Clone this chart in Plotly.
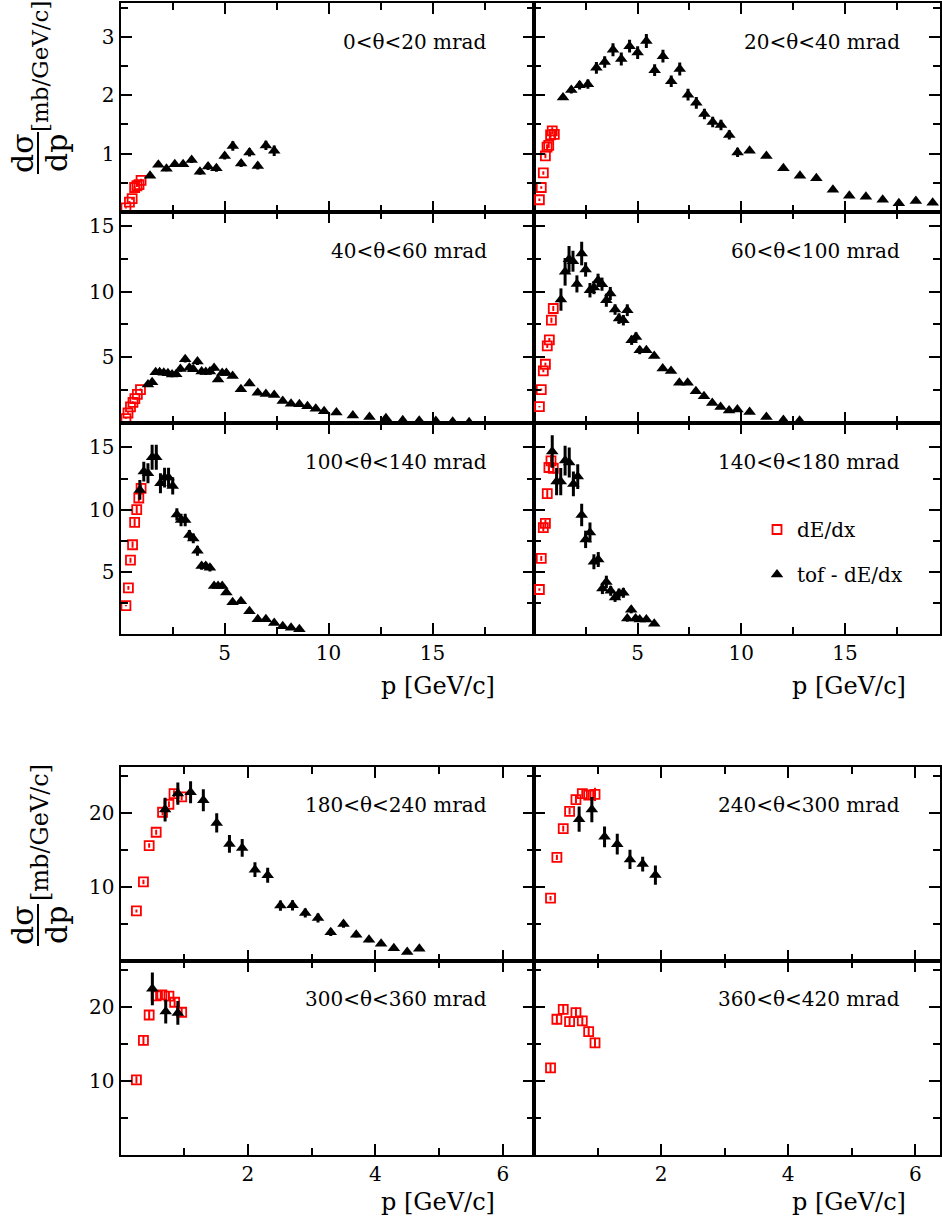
import plotly.graph_objects as go

# ---------------- data ----------------
titles = ["0<θ<20 mrad", "20<θ<40 mrad", "40<θ<60 mrad", "60<θ<100 mrad",
          "100<θ<140 mrad", "140<θ<180 mrad", "180<θ<240 mrad", "240<θ<300 mrad",
          "300<θ<360 mrad", "360<θ<420 mrad"]
legend_names = ["dE/dx", "tof - dE/dx"]
x_title = "p [GeV/c]"
y_title = "[mb/GeV/c]"

# 0-20 mrad
a_dedx_p = [0.26, 0.43, 0.56, 0.68, 0.79, 0.89, 0.99]
a_dedx_y = [0.07, 0.17, 0.23, 0.42, 0.45, 0.47, 0.54]
a_dedx_e = [0.01, 0.02, 0.02, 0.02, 0.02, 0.03, 0.03]
a_tof_p = [1.42, 1.82, 2.21, 2.61, 3.01, 3.42, 3.82, 4.21, 4.61, 5.01, 5.40, 5.80, 6.20, 6.60, 6.99, 7.39]
a_tof_y = [0.62, 0.81, 0.74, 0.82, 0.82, 0.89, 0.69, 0.78, 0.75, 0.96, 1.13, 0.83, 1.02, 0.79, 1.14, 1.05]
a_tof_e = [0.02, 0.04, 0.04, 0.04, 0.04, 0.05, 0.05, 0.06, 0.06, 0.06, 0.08, 0.06, 0.07, 0.06, 0.08, 0.09]

# 20-40 mrad
b_dedx_p = [0.26, 0.35, 0.45, 0.55, 0.63, 0.71, 0.80, 0.88, 0.98]
b_dedx_y = [0.21, 0.42, 0.67, 0.96, 1.11, 1.14, 1.32, 1.39, 1.33]
b_dedx_e = [0.02, 0.02, 0.03, 0.04, 0.05, 0.05, 0.05, 0.06, 0.06]
b_tof_p = [1.40, 1.80, 2.20, 2.60, 3.01, 3.41, 3.81, 4.21, 4.61, 5.00, 5.42, 5.82, 6.22, 6.62, 7.03, 7.43,
           7.83, 8.22, 8.62, 9.02, 9.42, 9.82, 10.40, 11.21, 12.03, 12.83, 13.62, 14.42, 15.21, 16.01,
           16.82, 17.60, 18.42, 19.23]
b_tof_y = [1.96, 2.09, 2.17, 2.19, 2.47, 2.57, 2.78, 2.62, 2.84, 2.73, 2.93, 2.43, 2.67, 2.24, 2.45, 2.01,
           1.87, 1.68, 1.54, 1.49, 1.32, 1.02, 1.05, 0.96, 0.75, 0.62, 0.58, 0.38, 0.28, 0.26,
           0.21, 0.15, 0.19, 0.16]
b_tof_e = [0.04, 0.06, 0.07, 0.08, 0.10, 0.10, 0.11, 0.11, 0.11, 0.11, 0.12, 0.10, 0.11, 0.10, 0.11, 0.10,
           0.10, 0.09, 0.09, 0.09, 0.08, 0.08, 0.03, 0.03, 0.03, 0.03, 0.03, 0.03, 0.02, 0.02,
           0.02, 0.02, 0.02, 0.02]

# 40-60 mrad
c_dedx_p = [0.26, 0.36, 0.48, 0.60, 0.69, 0.81, 0.96]
c_dedx_y = [0.33, 0.76, 1.22, 1.57, 1.85, 2.18, 2.54]
c_dedx_e = [0.03, 0.05, 0.06, 0.06, 0.07, 0.07, 0.08]
c_tof_p = [1.32, 1.52, 1.69, 1.88, 2.08, 2.28, 2.48, 2.68, 2.88, 3.11, 3.31, 3.50, 3.70, 3.90, 4.10, 4.30,
           4.50, 4.69, 4.89, 5.09, 5.39, 5.79, 6.20, 6.60, 6.99, 7.39, 7.80, 8.20, 8.60, 8.99, 9.39, 9.79,
           10.38, 11.17, 11.97, 12.76, 13.57, 14.36, 15.16, 15.97, 16.76]
c_tof_y = [2.92, 3.10, 3.86, 3.86, 3.83, 3.78, 3.68, 3.71, 4.11, 4.85, 4.21, 4.09, 4.67, 3.91, 3.88, 3.91,
           4.19, 3.30, 3.81, 3.81, 3.58, 2.56, 3.00, 2.31, 2.21, 2.13, 1.68, 1.47, 1.42, 1.27, 1.09, 0.89,
           0.79, 0.58, 0.46, 0.36, 0.20, 0.18, 0.15, 0.10, 0.05]
c_tof_e = [0.10, 0.15, 0.20, 0.20, 0.20, 0.20, 0.20, 0.20, 0.22, 0.25, 0.22, 0.22, 0.25, 0.22, 0.22, 0.22,
           0.22, 0.18, 0.20, 0.20, 0.10, 0.08, 0.08, 0.07, 0.07, 0.06, 0.06, 0.05, 0.05, 0.05, 0.04, 0.04,
           0.04, 0.03, 0.03, 0.02, 0.02, 0.02, 0.02, 0.02, 0.02]

# 60-100 mrad
d_dedx_p = [0.26, 0.35, 0.45, 0.55, 0.64, 0.74, 0.84, 0.93]
d_dedx_y = [1.24, 2.54, 3.96, 4.47, 5.86, 6.32, 7.82, 8.71]
d_dedx_e = [0.05, 0.08, 0.10, 0.12, 0.15, 0.15, 0.20, 0.20]
d_tof_p = [1.30, 1.50, 1.69, 1.88, 2.07, 2.30, 2.49, 2.70, 2.89, 3.09, 3.28, 3.49, 3.68, 3.91, 4.10, 4.31,
           4.50, 4.71, 4.92, 5.10, 5.42, 5.80, 6.21, 6.61, 7.01, 7.41, 7.81, 8.20, 8.60, 9.00, 9.41, 9.81,
           10.40, 11.21, 12.03, 12.81]
d_tof_y = [9.39, 11.50, 12.46, 12.31, 10.58, 12.89, 11.68, 10.10, 10.30, 10.86, 10.56, 9.34, 9.85, 8.63,
           7.94, 7.82, 8.58, 6.29, 6.55, 5.53, 5.53, 5.10, 4.14, 3.96, 3.07, 3.07, 2.41, 2.03, 1.52, 1.22,
           0.96, 1.02, 0.84, 0.46, 0.23, 0.18]
d_tof_e = [0.85, 1.05, 1.00, 0.80, 0.65, 0.90, 0.55, 0.55, 0.50, 0.50, 0.50, 0.50, 0.50, 0.40, 0.40, 0.40,
           0.45, 0.35, 0.35, 0.30, 0.10, 0.10, 0.10, 0.10, 0.10, 0.10, 0.08, 0.08, 0.06, 0.05, 0.05, 0.05,
           0.04, 0.03, 0.02, 0.02]

# 100-140 mrad
e_dedx_p = [0.26, 0.38, 0.48, 0.58, 0.68, 0.78, 0.88, 0.99]
e_dedx_y = [2.28, 3.71, 5.94, 7.18, 8.98, 10.00, 10.94, 11.72]
e_dedx_e = [0.05, 0.15, 0.20, 0.25, 0.30, 0.30, 0.30, 0.30]
e_tof_p = [0.93, 1.12, 1.32, 1.52, 1.72, 1.92, 2.12, 2.31, 2.51, 2.71, 2.91, 3.11, 3.31, 3.50, 3.70, 3.90,
           4.10, 4.30, 4.50, 4.69, 4.89, 5.09, 5.39, 5.79, 6.20, 6.60, 6.99, 7.39, 7.80, 8.20, 8.60]
e_tof_y = [11.59, 13.06, 12.93, 14.22, 14.22, 12.12, 12.58, 12.58, 11.91, 9.62, 9.17, 9.17, 7.96, 7.69,
           6.69, 5.46, 5.46, 5.32, 3.87, 3.87, 3.87, 3.33, 2.55, 2.63, 1.83, 1.18, 1.18, 0.89, 0.62, 0.51,
           0.38]
e_tof_e = [0.80, 0.80, 0.80, 1.00, 1.00, 0.80, 0.80, 0.80, 0.70, 0.50, 0.50, 0.50, 0.40, 0.40, 0.40, 0.30,
           0.30, 0.30, 0.20, 0.20, 0.20, 0.15, 0.10, 0.10, 0.08, 0.06, 0.06, 0.05, 0.04, 0.03, 0.03]

# 140-180 mrad
f_dedx_p = [0.26, 0.35, 0.45, 0.55, 0.64, 0.72, 0.82, 0.93]
f_dedx_y = [3.58, 6.08, 8.55, 8.90, 11.29, 13.39, 13.92, 13.33]
f_dedx_e = [0.10, 0.20, 0.30, 0.30, 0.35, 0.45, 0.50, 0.45]
f_tof_p = [0.88, 1.09, 1.29, 1.50, 1.70, 1.90, 2.11, 2.30, 2.49, 2.70, 2.89, 3.10, 3.30, 3.49, 3.70, 3.91,
           4.10, 4.31, 4.50, 4.69, 4.90, 5.10, 5.42, 5.80]
f_tof_y = [14.68, 12.26, 12.26, 13.95, 13.79, 12.07, 12.66, 9.57, 7.61, 8.17, 5.81, 5.99, 3.66, 4.19,
           3.47, 2.93, 3.25, 3.31, 1.24, 1.96, 1.24, 1.16, 1.16, 0.83]
f_tof_e = [1.30, 1.10, 1.10, 1.20, 1.20, 1.00, 1.00, 0.90, 0.70, 0.80, 0.60, 0.60, 0.45, 0.50, 0.40, 0.35,
           0.40, 0.40, 0.25, 0.30, 0.20, 0.15, 0.10, 0.08]

# 180-240 mrad
g_dedx_p = [0.25, 0.36, 0.45, 0.56, 0.66, 0.76, 0.84, 0.96]
g_dedx_y = [6.76, 10.68, 15.59, 17.39, 20.09, 21.17, 22.61, 22.16]
g_dedx_e = [0.20, 0.30, 0.30, 0.35, 0.40, 0.40, 0.45, 0.45]
g_tof_p = [0.70, 0.90, 1.10, 1.30, 1.51, 1.71, 1.91, 2.11, 2.31, 2.51, 2.70, 2.90, 3.10, 3.30, 3.50, 3.70,
           3.90, 4.09, 4.29, 4.50, 4.69]
g_tof_y = [20.45, 22.61, 22.79, 21.71, 18.65, 15.81, 15.27, 12.34, 11.58, 7.48, 7.52, 6.49, 5.81, 3.87,
           5.00, 3.56, 2.88, 2.34, 1.71, 1.22, 1.67]
g_tof_e = [1.60, 1.50, 1.50, 1.50, 1.30, 1.20, 1.20, 1.00, 1.00, 0.70, 0.70, 0.60, 0.60, 0.50, 0.50, 0.40,
           0.35, 0.30, 0.25, 0.20, 0.20]

# 240-300 mrad
h_dedx_p = [0.26, 0.36, 0.46, 0.56, 0.66, 0.76, 0.86, 0.96]
h_dedx_y = [8.48, 13.99, 17.89, 20.22, 21.79, 22.60, 22.42, 22.51]
h_dedx_e = [0.30, 0.35, 0.40, 0.45, 0.50, 0.55, 0.60, 0.90]
h_tof_p = [0.71, 0.91, 1.11, 1.31, 1.51, 1.71, 1.91]
h_tof_y = [19.15, 20.45, 16.77, 15.78, 13.72, 13.09, 11.61]
h_tof_e = [1.70, 1.70, 1.40, 1.40, 1.30, 1.00, 1.30]

# 300-360 mrad
i_dedx_p = [0.25, 0.36, 0.45, 0.56, 0.65, 0.76, 0.85, 0.96]
i_dedx_y = [10.14, 15.48, 18.91, 21.49, 21.63, 21.45, 20.63, 19.28]
i_dedx_e = [0.50, 0.60, 0.60, 0.60, 0.60, 0.60, 0.60, 0.60]
i_tof_p = [0.50, 0.71, 0.90]
i_tof_y = [22.44, 19.37, 19.19]
i_tof_e = [2.20, 1.60, 1.60]

# 360-420 mrad
j_dedx_p = [0.26, 0.36, 0.46, 0.56, 0.66, 0.76, 0.86, 0.96]
j_dedx_y = [11.76, 18.33, 19.68, 18.02, 19.23, 18.11, 16.67, 15.14]
j_dedx_e = [0.60, 0.70, 0.70, 0.70, 0.70, 0.70, 0.70, 0.70]

# ---------------- layout geometry (pixels) ----------------
W, H = 942, 1218
FONT = "DejaVu Serif"
XL, XM, XR = 120.5, 534.0, 939.5
TOP_ROWS = [3, 212, 423, 634]
BOT_ROWS = [767, 961, 1155]


def fx(px):
    return px / W


def fy(py):
    return 1 - py / H


panels = [
    (a_dedx_p, a_dedx_y, a_dedx_e, a_tof_p, a_tof_y, a_tof_e),
    (b_dedx_p, b_dedx_y, b_dedx_e, b_tof_p, b_tof_y, b_tof_e),
    (c_dedx_p, c_dedx_y, c_dedx_e, c_tof_p, c_tof_y, c_tof_e),
    (d_dedx_p, d_dedx_y, d_dedx_e, d_tof_p, d_tof_y, d_tof_e),
    (e_dedx_p, e_dedx_y, e_dedx_e, e_tof_p, e_tof_y, e_tof_e),
    (f_dedx_p, f_dedx_y, f_dedx_e, f_tof_p, f_tof_y, f_tof_e),
    (g_dedx_p, g_dedx_y, g_dedx_e, g_tof_p, g_tof_y, g_tof_e),
    (h_dedx_p, h_dedx_y, h_dedx_e, h_tof_p, h_tof_y, h_tof_e),
    (i_dedx_p, i_dedx_y, i_dedx_e, i_tof_p, i_tof_y, i_tof_e),
    (j_dedx_p, j_dedx_y, j_dedx_e, [], [], []),
]

TX_MAJ, TX_MIN = [5, 10, 15], [2.5, 7.5, 12.5, 17.5]
BX_MAJ, BX_MIN = [2, 4, 6], [1, 3, 5]
specs = []
top_y = [([0, 3.58], [1, 2, 3], [0.5, 1.5, 2.5, 3.5]),
         ([0, 16.05], [5, 10, 15], [2.5, 7.5, 12.5]),
         ([0, 16.97], [5, 10, 15], [2.5, 7.5, 12.5])]
for r in range(3):
    for c in range(2):
        x0, x1 = (XL, XM) if c == 0 else (XM, XR)
        xr = [0, 19.88] if c == 0 else [0, 19.56]
        yr, ymaj, ymin = top_y[r]
        specs.append((x0, x1, TOP_ROWS[r], TOP_ROWS[r + 1], xr, yr, TX_MAJ, TX_MIN, ymaj, ymin,
                      r == 2, c == 0))
for r in range(2):
    for c in range(2):
        x0, x1 = (XL, XM) if c == 0 else (XM, XR)
        xr = [0, 6.49] if c == 0 else [0, 6.38]
        specs.append((x0, x1, BOT_ROWS[r], BOT_ROWS[r + 1], xr, [0, 26.2], BX_MAJ, BX_MIN,
                      [10, 20], [5, 15, 25], r == 1, c == 0))

fig = go.Figure()
layout = dict(width=W, height=H, autosize=False, margin=dict(l=0, r=0, t=0, b=0),
              paper_bgcolor="white", plot_bgcolor="white",
              font=dict(family=FONT, size=20, color="black"))

axis_common = dict(showline=True, linewidth=2, linecolor="black", mirror="ticks",
                   ticks="inside", ticklen=11, tickwidth=2, tickcolor="black",
                   showgrid=False, zeroline=False, tickmode="array",
                   tickfont=dict(family=FONT, size=20, color="black"))

annotations = []
for k, (spec, data, title) in enumerate(zip(specs, panels, titles)):
    x0, x1, yt, yb, xr, yr, xmaj, xmin, ymaj, ymin, showx, showy = spec
    xs = "x" if k == 0 else f"x{k + 1}"
    ys = "y" if k == 0 else f"y{k + 1}"
    xk = "xaxis" if k == 0 else f"xaxis{k + 1}"
    yk = "yaxis" if k == 0 else f"yaxis{k + 1}"
    layout[xk] = dict(axis_common, domain=[fx(x0), fx(x1)], anchor=ys, range=xr,
                      tickvals=xmaj, showticklabels=showx,
                      minor=dict(tickmode="array", tickvals=xmin, ticks="inside", ticklen=7,
                                 tickwidth=2, tickcolor="black", showgrid=False))
    layout[yk] = dict(axis_common, domain=[fy(yb), fy(yt)], anchor=xs, range=yr,
                      tickvals=ymaj, showticklabels=showy,
                      minor=dict(tickmode="array", tickvals=ymin, ticks="inside", ticklen=7,
                                 tickwidth=2, tickcolor="black", showgrid=False))
    dp, dy, de, tp, ty, te = data
    fig.add_trace(go.Scatter(
        x=dp, y=dy, mode="markers", xaxis=xs, yaxis=ys, name=legend_names[0],
        legendgroup="dedx", showlegend=(k == 0),
        marker=dict(symbol="square-open", size=9, color="red", line=dict(width=1.8, color="red")),
        error_y=dict(type="data", array=de, color="red", thickness=2, width=0)))
    if tp:
        fig.add_trace(go.Scatter(
            x=tp, y=ty, mode="markers", xaxis=xs, yaxis=ys, name=legend_names[1],
            legendgroup="tof", showlegend=(k == 0),
            marker=dict(symbol="triangle-up", size=11, color="black"),
            error_y=dict(type="data", array=te, color="black", thickness=3, width=0)))
    tx = 489 if x0 == XL else 902
    ty_c = yt + 39 if yt < 700 else yt + 38
    annotations.append(dict(text=title, xref="paper", yref="paper", x=fx(tx), y=fy(ty_c),
                            xanchor="right", yanchor="middle", showarrow=False,
                            font=dict(family=FONT, size=20, color="black")))

for (xr_px, yc) in [(497, 686), (908, 686), (497, 1202), (908, 1202)]:
    annotations.append(dict(text=x_title, xref="paper", yref="paper", x=fx(xr_px), y=fy(yc),
                            xanchor="right", yanchor="middle", showarrow=False,
                            font=dict(family=FONT, size=24, color="black")))
shapes = []
for (yb_c, fr_c, ysz) in [(67, 153, 23), (833, 925, 24)]:
    annotations.append(dict(text=y_title, xref="paper", yref="paper", x=fx(40), y=fy(yb_c),
                            xanchor="center", yanchor="middle", textangle=-90, showarrow=False,
                            font=dict(family=FONT, size=ysz, color="black")))
    annotations.append(dict(text="dσ", xref="paper", yref="paper", x=fx(22), y=fy(fr_c),
                            xanchor="center", yanchor="middle", textangle=-90, showarrow=False,
                            font=dict(family=FONT, size=30, color="black")))
    annotations.append(dict(text="dp", xref="paper", yref="paper", x=fx(56), y=fy(fr_c),
                            xanchor="center", yanchor="middle", textangle=-90, showarrow=False,
                            font=dict(family=FONT, size=30, color="black")))
    shapes.append(dict(type="line", xref="paper", yref="paper", x0=fx(38), x1=fx(38),
                       y0=fy(fr_c - 21), y1=fy(fr_c + 21), line=dict(color="black", width=2)))

layout["annotations"] = annotations
layout["shapes"] = shapes
layout["showlegend"] = True
layout["legend"] = dict(x=fx(757), y=fy(510), xanchor="left", yanchor="top",
                        bgcolor="rgba(0,0,0,0)", borderwidth=0, tracegroupgap=16,
                        font=dict(family=FONT, size=20, color="black"))
fig.update_layout(**layout)
fig.write_html("out.html", config={"displayModeBar": False},
               post_script="document.body.style.margin='0';document.body.style.overflow='hidden';")
